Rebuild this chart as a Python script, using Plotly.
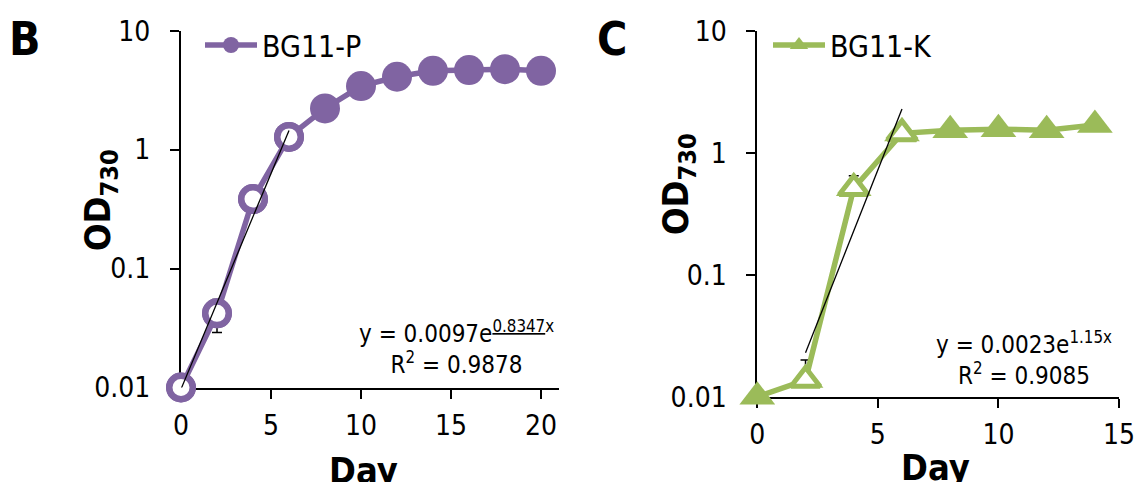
import numpy as np
import plotly.graph_objects as go

FONT = "DejaVu Sans Condensed, DejaVu Sans, sans-serif"
W, H = 1137, 482

# ---- Panel B: BG11-P growth (OD730 vs day) ----
days_p = [0, 2, 4, 6, 8, 10, 12, 14, 16, 18, 20]
od_p = [0.010, 0.042, 0.384, 1.28, 2.22, 3.42, 4.10, 4.60, 4.67, 4.75, 4.60]
err_p = [0, 0.013, 0, 0, 0, 0, 0, 0, 0, 0, 0]
n_fit_p = 4                      # points used for the exponential fit (open markers)
fit_a_p, fit_b_p, fit_r2_p = 0.0097, 0.8347, 0.9878
fit_range_p = [0, 6]

# ---- Panel C: BG11-K growth ----
days_k = [0, 2, 4, 6, 8, 10, 12, 14]
od_k = [0.010, 0.0137, 0.511, 1.44, 1.53, 1.56, 1.53, 1.69]
err_k = [0, 0.0063, 0.137, 0, 0, 0, 0, 0]
fit_idx_k = [1, 2, 3]            # points used for the exponential fit (open markers)
fit_a_k, fit_b_k, fit_r2_k = 0.0023, 1.15, 0.9085
fit_range_k = [2, 6]

y_ticks = [0.01, 0.1, 1, 10]
y_ticktext = ["0.01", "0.1", "1", "10"]
x_ticks_p = [0, 5, 10, 15, 20]
x_ticks_k = [0, 5, 10, 15]

PURPLE = "#8064A2"
GREEN = "#9BBB59"


def px_x(p):
    return p / W


def px_y(p):
    return 1 - p / H


def fit_curve(a, b, xr):
    x = np.linspace(xr[0], xr[1], 30)
    return x, a * np.exp(b * x)


fig = go.Figure()

# B: full series, line + filled markers (legend entry)
fig.add_trace(go.Scatter(
    x=days_p, y=od_p, mode="lines+markers", name="BG11-P",
    line=dict(color=PURPLE, width=5.5),
    marker=dict(symbol="circle", size=30, color=PURPLE, line=dict(width=0)),
    error_y=dict(type="data", array=err_p, color="black", thickness=1.5, width=5),
    cliponaxis=False, xaxis="x", yaxis="y", legend="legend",
))
# B: open markers for the points in the fitted range
fig.add_trace(go.Scatter(
    x=days_p[:n_fit_p], y=od_p[:n_fit_p], mode="markers", showlegend=False,
    marker=dict(symbol="circle", size=23.5, color="white",
                line=dict(color=PURPLE, width=6.5)),
    cliponaxis=False, xaxis="x", yaxis="y", hoverinfo="skip",
))
fx, fy = fit_curve(fit_a_p, fit_b_p, fit_range_p)
fig.add_trace(go.Scatter(
    x=fx, y=fy, mode="lines", showlegend=False,
    line=dict(color="black", width=1.3), cliponaxis=False,
    xaxis="x", yaxis="y", hoverinfo="skip",
))

# C: full series, line + filled triangles
fig.add_trace(go.Scatter(
    x=days_k, y=od_k, mode="lines+markers", name="BG11-K",
    line=dict(color=GREEN, width=5.5),
    marker=dict(symbol="triangle-up", size=31, color=GREEN, line=dict(width=0)),
    error_y=dict(type="data", array=err_k, symmetric=False,
                 arrayminus=[0] * len(err_k),
                 color="black", thickness=1.5, width=5),
    cliponaxis=False, xaxis="x2", yaxis="y2", legend="legend2",
))
fig.add_trace(go.Scatter(
    x=[days_k[i] for i in fit_idx_k], y=[od_k[i] for i in fit_idx_k],
    mode="markers", showlegend=False,
    marker=dict(symbol="triangle-up", size=25, color="white",
                line=dict(color=GREEN, width=5)),
    cliponaxis=False, xaxis="x2", yaxis="y2", hoverinfo="skip",
))
fx, fy = fit_curve(fit_a_k, fit_b_k, fit_range_k)
fig.add_trace(go.Scatter(
    x=fx, y=fy, mode="lines", showlegend=False,
    line=dict(color="black", width=1.3), cliponaxis=False,
    xaxis="x2", yaxis="y2", hoverinfo="skip",
))

axis_common = dict(
    showline=True, linecolor="black", linewidth=2, mirror=False,
    ticks="outside", ticklen=9, tickwidth=2, tickcolor="black",
    showgrid=False, zeroline=False, layer="below traces", automargin=False,
    tickfont=dict(family=FONT, size=28, color="black"),
)

legend_common = dict(
    xanchor="left", yanchor="middle",
    font=dict(family=FONT, size=30, color="black"),
    itemwidth=52, bgcolor="rgba(0,0,0,0)", borderwidth=0,
)

fig.update_layout(
    template="none",
    width=W, height=H, margin=dict(l=0, r=0, t=0, b=0, pad=0, autoexpand=False),
    paper_bgcolor="white", plot_bgcolor="white",
    font=dict(family=FONT, color="black"),
    xaxis=dict(domain=[px_x(181), px_x(559)], range=[0, 21], tickvals=x_ticks_p,
               anchor="y", ticklabelstandoff=3, **axis_common),
    yaxis=dict(domain=[px_y(387.5), px_y(30.7)], type="log", range=[-2, 1],
               tickvals=y_ticks, ticktext=y_ticktext, anchor="x",
               ticklabelstandoff=14, **axis_common),
    xaxis2=dict(domain=[px_x(757.3), px_x(1119)], range=[0, 15], tickvals=x_ticks_k,
                anchor="y2", ticklabelstandoff=3, **axis_common),
    yaxis2=dict(domain=[px_y(396.7), px_y(30.7)], type="log", range=[-2, 1],
                tickvals=y_ticks, ticktext=y_ticktext, anchor="x2",
                ticklabelstandoff=14, **axis_common),
    legend=dict(x=px_x(200), y=px_y(45), **legend_common),
    legend2=dict(x=px_x(768), y=px_y(45), **legend_common),
    showlegend=True,
)

ann = []
# panel letters
ann.append(dict(text="<b>B</b>", x=px_x(25), y=px_y(39), font=dict(size=46)))
ann.append(dict(text="<b>C</b>", x=px_x(612), y=px_y(39), font=dict(size=46)))
# axis titles
ann.append(dict(text="<b>Day</b>", x=px_x(363), y=px_y(470), font=dict(size=36)))
ann.append(dict(text="<b>Day</b>", x=px_x(936), y=px_y(467), font=dict(size=36)))
ann.append(dict(text="<b>OD<sub>730</sub></b>", x=px_x(100), y=px_y(200),
                textangle=-90, font=dict(size=36)))
ann.append(dict(text="<b>OD<sub>730</sub></b>", x=px_x(678), y=px_y(184),
                textangle=-90, font=dict(size=36)))
# fit equations
ann.append(dict(
    text=f"y = {fit_a_p}e<sup><u>{fit_b_p}</u>x</sup><br>R<sup>2</sup> = {fit_r2_p}",
    x=px_x(456), y=px_y(347), font=dict(size=24)))
ann.append(dict(
    text=f"y = {fit_a_k}e<sup>{fit_b_k}x</sup><br>R<sup>2</sup> = {fit_r2_k}",
    x=px_x(1024), y=px_y(358), font=dict(size=24)))

for a in ann:
    a.update(xref="paper", yref="paper", showarrow=False,
             xanchor="center", yanchor="middle")
    a["font"].update(family=FONT, color="black")
fig.update_layout(annotations=ann)

fig.write_html("out.html")
